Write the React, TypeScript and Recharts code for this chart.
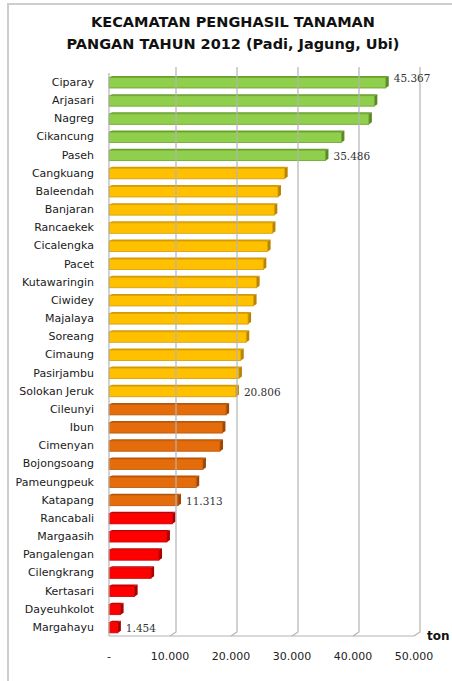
import React from 'react';
import { BarChart, Bar, XAxis, YAxis, ReferenceLine, LabelList, Cell } from 'recharts';

// kecamatan, sorted by production (ton)
const categories = [
  'Ciparay', 'Arjasari', 'Nagreg', 'Cikancung', 'Paseh',
  'Cangkuang', 'Baleendah', 'Banjaran', 'Rancaekek', 'Cicalengka', 'Pacet', 'Kutawaringin',
  'Ciwidey', 'Majalaya', 'Soreang', 'Cimaung', 'Pasirjambu', 'Solokan Jeruk',
  'Cileunyi', 'Ibun', 'Cimenyan', 'Bojongsoang', 'Pameungpeuk', 'Katapang',
  'Rancabali', 'Margaasih', 'Pangalengan', 'Cilengkrang', 'Kertasari', 'Dayeuhkolot', 'Margahayu',
];
const values = [
  45367, 43500, 42600, 38100, 35486,
  28800, 27700, 27100, 26800, 26000, 25300, 24200,
  23700, 22800, 22500, 21600, 21300, 20806,
  19200, 18600, 18200, 15400, 14300, 11313,
  10400, 9500, 8200, 6900, 4200, 1900, 1454,
];
const tiers = [
  'high', 'high', 'high', 'high', 'high',
  'mid', 'mid', 'mid', 'mid', 'mid', 'mid', 'mid',
  'mid', 'mid', 'mid', 'mid', 'mid', 'mid',
  'low', 'low', 'low', 'low', 'low', 'low',
  'min', 'min', 'min', 'min', 'min', 'min', 'min',
];
const labelled = ['Ciparay', 'Paseh', 'Solokan Jeruk', 'Katapang', 'Margahayu'];
const xTicks = [0, 10000, 20000, 30000, 40000, 50000];

const tierColors: Record<string, { face: string; edge: string; side: string }> = {
  high: { face: '#8fcf4c', edge: '#6a9f2e', side: '#5b8a25' },
  mid: { face: '#ffc000', edge: '#d49a00', side: '#b88400' },
  low: { face: '#e46c0a', edge: '#b85405', side: '#a04604' },
  min: { face: '#ff0000', edge: '#c80000', side: '#a80000' },
};

const data = categories.map((name, i) => ({
  name,
  value: values[i],
  tier: tiers[i],
  label: labelled.includes(name) ? values[i] : null,
}));

const fmt = (v: number) => (v === 0 ? '-' : v.toLocaleString('de-DE'));

const Bar3D = (props: any) => {
  const { x, y, width, height, tier } = props;
  const c = tierColors[tier];
  const d = 3;
  const fy = y + 1.5;
  const fh = height - 1.5;
  return (
    <g>
      <path
        d={`M${x},${fy} L${x + d},${fy - 1.5} L${x + width + d},${fy - 1.5} L${x + width},${fy} Z`}
        fill={c.edge}
      />
      <path
        d={`M${x + width},${fy} L${x + width + d},${fy - 1.5} L${x + width + d},${fy + fh - 2} L${x + width},${fy + fh} Z`}
        fill={c.side}
      />
      <rect x={x} y={fy} width={width} height={fh} fill={c.face} stroke={c.edge} strokeWidth={0.8} />
    </g>
  );
};

const GridLine = (props: any) => {
  const { x1, y1, y2 } = props;
  const top = Math.min(y1, y2);
  const bottom = Math.max(y1, y2);
  return (
    <path
      d={`M${x1 + 6},${top - 6} L${x1 + 6},${bottom - 4} L${x1},${bottom}`}
      stroke="#b4b4b4"
      strokeWidth={1.2}
      fill="none"
    />
  );
};

const ValueLabel = (props: any) => {
  const { x, y, width, height, value, index } = props;
  if (value == null) return null;
  // the top label sits a bit higher in the original
  const lift = index === 0 ? 5 : 0;
  return (
    <text
      x={x + width + 8}
      y={y + height / 2 + 1 - lift}
      fontSize={10.5}
      fontFamily="DejaVu Serif"
      fill="#333"
      dominantBaseline="central"
    >
      {fmt(value)}
    </text>
  );
};

export default function App() {
  return (
    <div style={{ position: 'absolute', left: 0, top: 0, width: 452, height: 681, background: '#fff' }}>
      <div
        style={{
          position: 'absolute',
          left: 7,
          top: 3,
          right: 0,
          bottom: 0,
          borderTop: '2px solid #cdcdcd',
          borderLeft: '2px solid #cdcdcd',
        }}
      />
      <div
        style={{
          position: 'absolute',
          left: 0,
          top: 11,
          width: 466,
          textAlign: 'center',
          fontFamily: 'DejaVu Sans',
          fontWeight: 'bold',
          fontSize: 14.5,
          lineHeight: '22px',
          color: '#111',
        }}
      >
        KECAMATAN PENGHASIL TANAMAN
        <br />
        PANGAN TAHUN 2012 (Padi, Jagung, Ubi)
      </div>
      <div
        style={{
          position: 'absolute',
          left: 427,
          top: 629,
          fontFamily: 'DejaVu Sans',
          fontWeight: 'bold',
          fontSize: 12,
          color: '#111',
        }}
      >
        ton
      </div>
      <div style={{ position: 'absolute', left: 0, top: 0 }}>
        <BarChart
          width={452}
          height={681}
          data={data}
          layout="vertical"
          margin={{ top: 73, right: 38, bottom: 15, left: 0 }}
          barSize={12}
        >
          <XAxis
            type="number"
            domain={[0, 50000]}
            ticks={xTicks}
            tickFormatter={fmt}
            tickLine={false}
            axisLine={{ stroke: '#b4b4b4', strokeWidth: 1.2 }}
            tick={{ fontSize: 11, fontFamily: 'DejaVu Sans', fill: '#222' }}
            tickMargin={10}
            height={30}
          />
          <YAxis
            type="category"
            dataKey="name"
            width={109}
            tickLine={false}
            axisLine={{ stroke: '#b4b4b4', strokeWidth: 1.2 }}
            tick={{ fontSize: 11, fontFamily: 'DejaVu Sans', fill: '#1a1a1a' }}
            tickMargin={9}
            interval={0}
          />
          {xTicks.slice(1).map((t) => (
            <ReferenceLine key={t} x={t} shape={GridLine} />
          ))}
          <Bar dataKey="value" isAnimationActive={false} shape={Bar3D}>
            {data.map((d, i) => (
              <Cell key={i} fill={tierColors[d.tier].face} />
            ))}
            <LabelList dataKey="label" content={ValueLabel} />
          </Bar>
        </BarChart>
      </div>
    </div>
  );
}
